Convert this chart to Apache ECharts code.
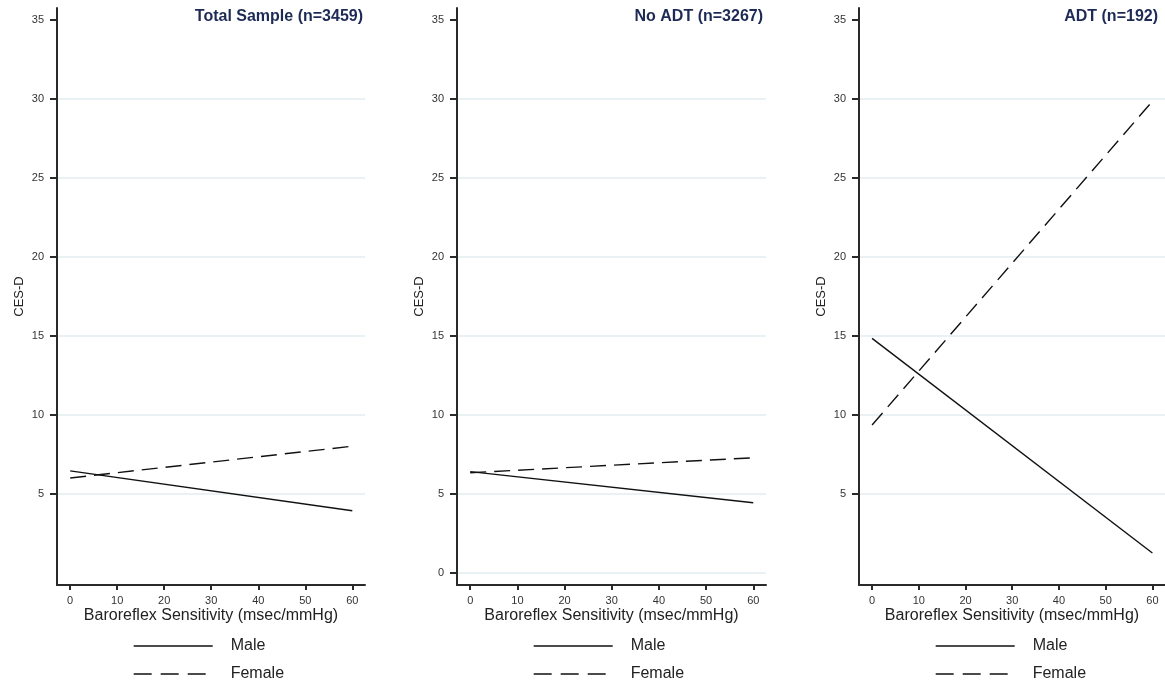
<!DOCTYPE html>
<html>
<head>
<meta charset="utf-8">
<script src="https://cdn.jsdelivr.net/npm/echarts@6/dist/echarts.min.js"></script>
<style>
  html, body { margin: 0; padding: 0; background: #ffffff; }
  #chart { width: 1165px; height: 684px; }
</style>
</head>
<body>
<div id="chart"></div>
<script>
// Predicted CES-D by baroreflex sensitivity, split by sex, for three samples
const panelTitles = ['Total Sample (n=3459)', 'No ADT (n=3267)', 'ADT (n=192)'];
const seriesNames = ['Male', 'Female'];
const bsX = [0, 60];

const totalMale = [6.47, 3.95];
const totalFemale = [6.02, 8.03];
const noAdtMale = [6.42, 4.45];
const noAdtFemale = [6.35, 7.3];
const adtMale = [14.85, 1.27];
const adtFemale = [9.37, 29.85];

const xTicks = [0, 10, 20, 30, 40, 50, 60];
const yTicksTotal = [5, 10, 15, 20, 25, 30, 35];
const yTicksNoAdt = [0, 5, 10, 15, 20, 25, 30, 35];
const yTicksAdt = [5, 10, 15, 20, 25, 30, 35];
const gridTotal = [5, 10, 15, 20, 25, 30];
const gridNoAdt = [0, 5, 10, 15, 20, 25, 30];
const gridAdt = [5, 10, 15, 20, 25, 30];

const xAxisName = 'Baroreflex Sensitivity (msec/mmHg)';
const yAxisName = 'CES-D';

const panelValues = [
  [totalMale, totalFemale],
  [noAdtMale, noAdtFemale],
  [adtMale, adtFemale]
];
const panelYTicks = [yTicksTotal, yTicksNoAdt, yTicksAdt];
const panelGridLines = [gridTotal, gridNoAdt, gridAdt];

const FONT = '"Liberation Sans", Arial, Helvetica, sans-serif';
const INK = '#111111';
const AXIS = '#2a2a2a';
const LABEL = '#333333';

const layout = [
  { left: 57, width: 308, titleRight: 802, legendLeft: 133 },
  { left: 457, width: 309, titleRight: 402, legendLeft: 533 },
  { left: 859, width: 306, titleRight: 7, legendLeft: 935 }
];
const GRID_TOP = 8;
const GRID_HEIGHT = 577;
const Y_MIN = -0.75, Y_MAX = 35.75;
const X_MIN = -2.8, X_MAX = 62.7;

const grid = [], xAxis = [], yAxis = [], series = [], title = [], legend = [];

layout.forEach((p, i) => {
  grid.push({ left: p.left, top: GRID_TOP, width: p.width, height: GRID_HEIGHT, containLabel: false });

  xAxis.push({
    gridIndex: i, type: 'value', min: X_MIN, max: X_MAX,
    name: xAxisName, nameLocation: 'middle', nameGap: 23, nameMoveOverlap: false,
    nameTextStyle: { fontFamily: FONT, fontSize: 16, color: '#222' },
    axisLine: { show: true, onZero: false, lineStyle: { color: AXIS, width: 2 } },
    axisTick: { show: true, length: 5, customValues: xTicks, lineStyle: { color: AXIS, width: 2 } },
    axisLabel: { customValues: xTicks, margin: 10, fontFamily: FONT, fontSize: 11, color: LABEL },
    splitLine: { show: false }
  });

  // Visible y axis with tick marks and labels
  yAxis.push({
    gridIndex: i, type: 'value', min: Y_MIN, max: Y_MAX,
    name: yAxisName, nameLocation: 'middle', nameGap: 31, nameRotate: 90, nameMoveOverlap: false,
    nameTextStyle: { fontFamily: FONT, fontSize: 13, color: '#222' },
    axisLine: { show: true, onZero: false, lineStyle: { color: AXIS, width: 2 } },
    axisTick: { show: true, length: 7, customValues: panelYTicks[i], lineStyle: { color: AXIS, width: 2 } },
    axisLabel: { customValues: panelYTicks[i], margin: 13, fontFamily: FONT, fontSize: 11, color: LABEL },
    splitLine: { show: false }
  });

  // Light horizontal gridlines
  yAxis.push({
    gridIndex: i, type: 'value', min: Y_MIN, max: Y_MAX,
    axisLine: { show: false, onZero: false },
    axisTick: { show: false, customValues: panelGridLines[i] },
    axisLabel: { show: false },
    splitLine: { show: true, lineStyle: { color: '#e3ecf1', width: 1.5 } }
  });

  const [male, female] = panelValues[i];
  series.push({
    name: seriesNames[0], type: 'line', xAxisIndex: i, yAxisIndex: i * 2,
    data: bsX.map((x, k) => [x, male[k]]),
    symbol: 'none', silent: true, z: 3,
    lineStyle: { color: INK, width: 1.4, type: 'solid' },
    itemStyle: { color: INK }
  });
  series.push({
    name: seriesNames[1], type: 'line', xAxisIndex: i, yAxisIndex: i * 2,
    data: bsX.map((x, k) => [x, female[k]]),
    symbol: 'none', silent: true, z: 3,
    lineStyle: { color: INK, width: 1.4, type: [16, 8] },
    itemStyle: { color: INK }
  });

  title.push({
    text: panelTitles[i], right: p.titleRight, top: 9, padding: 0,
    textStyle: { fontFamily: FONT, fontSize: 16, fontWeight: 'bold', color: '#1d2a55' }
  });

  legend.push({
    data: [
      { name: seriesNames[0], lineStyle: { type: 'solid' } },
      { name: seriesNames[1], lineStyle: { type: [18, 9] } }
    ],
    orient: 'vertical', left: p.legendLeft, top: 638, padding: 0,
    itemWidth: 79, itemHeight: 14, itemGap: 12, selectedMode: false,
    itemStyle: { color: 'transparent', opacity: 0, borderWidth: 0 },
    lineStyle: { color: INK, width: 1.4 },
    textStyle: { fontFamily: FONT, fontSize: 16, color: '#222', padding: [0, 0, 0, 13] }
  });
});

const chart = echarts.init(document.getElementById('chart'), null, { renderer: 'canvas' });
chart.setOption({
  animation: false,
  backgroundColor: '#ffffff',
  grid, xAxis, yAxis, series, title, legend
});
</script>
</body>
</html>
